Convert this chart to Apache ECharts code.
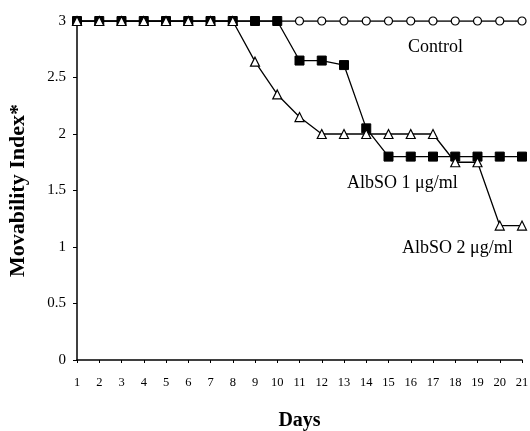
<!DOCTYPE html>
<html>
<head>
<meta charset="utf-8">
<script src="https://cdn.jsdelivr.net/npm/echarts@6/dist/echarts.min.js"></script>
<style>html,body{margin:0;padding:0;background:#fff}#c{width:530px;height:431px}</style>
</head>
<body>
<div id="c"></div>
<script>
const days = ['1','2','3','4','5','6','7','8','9','10','11','12','13','14','15','16','17','18','19','20','21'];
const control = [3,3,3,3,3,3,3,3,3,3,3,3,3,3,3,3,3,3,3,3,3];
const albso1 = [3,3,3,3,3,3,3,3,3,3,2.65,2.65,2.61,2.05,1.8,1.8,1.8,1.8,1.8,1.8,1.8];
const albso2 = [3,3,3,3,3,3,3,3,2.64,2.35,2.15,2.0,2.0,2.0,2.0,2.0,2.0,1.75,1.75,1.19,1.19];
const yTicks = [0,0.5,1,1.5,2,2.5,3];

const F = 'Liberation Serif';
const chart = echarts.init(document.getElementById('c'));
chart.setOption({
  animation: false,
  backgroundColor: '#fff',
  grid: {left: 77, right: 8, top: 21, bottom: 71, containLabel: false, outerBoundsMode: 'none'},
  xAxis: {
    type: 'category', data: days, boundaryGap: false,
    name: 'Days', nameLocation: 'middle', nameGap: 51,
    nameTextStyle: {fontFamily: F, fontWeight: 'bold', fontSize: 20, color: '#000'},
    axisLine: {lineStyle: {color: '#000', width: 1.5}},
    axisTick: {show: true, length: 3, lineStyle: {color: '#000'}},
    axisLabel: {fontFamily: F, fontSize: 12.5, color: '#000', margin: 16, interval: 0}
  },
  yAxis: {
    type: 'value', min: 0, max: 3, interval: 0.5,
    name: 'Movability Index*', nameLocation: 'middle', nameGap: 48,
    nameTextStyle: {fontFamily: F, fontWeight: 'bold', fontSize: 22, color: '#000'},
    axisLine: {show: true, lineStyle: {color: '#000', width: 1.5}},
    axisTick: {show: true, length: 4, lineStyle: {color: '#000'}},
    splitLine: {show: false},
    axisLabel: {fontFamily: F, fontSize: 15, color: '#000', margin: 11,
      formatter: v => yTicks.includes(v) ? String(v) : ''}
  },
  series: [
    {name: 'Control', type: 'line', data: control, symbol: 'circle', symbolSize: 8,
     lineStyle: {color: '#000', width: 1.3}, itemStyle: {color: '#fff', borderColor: '#000', borderWidth: 1.2}, z: 2},
    {name: 'AlbSO 1 μg/ml', type: 'line', data: albso1, symbol: 'rect', symbolSize: 9,
     lineStyle: {color: '#000', width: 1.3}, itemStyle: {color: '#000', borderColor: '#000', borderWidth: 1}, z: 3},
    {name: 'AlbSO 2 μg/ml', type: 'line', data: albso2, symbol: 'triangle', symbolSize: 9,
     lineStyle: {color: '#000', width: 1.3}, itemStyle: {color: '#fff', borderColor: '#000', borderWidth: 1.2}, z: 4}
  ],
  graphic: [
    {type: 'text', x: 408, y: 47, style: {text: 'Control', fontFamily: F, fontSize: 18, fill: '#000', verticalAlign: 'middle'}},
    {type: 'text', x: 347, y: 183, style: {text: 'AlbSO 1 μg/ml', fontFamily: F, fontSize: 18, fill: '#000', verticalAlign: 'middle'}},
    {type: 'text', x: 402, y: 248, style: {text: 'AlbSO 2 μg/ml', fontFamily: F, fontSize: 18, fill: '#000', verticalAlign: 'middle'}}
  ]
});
</script>
</body>
</html>
